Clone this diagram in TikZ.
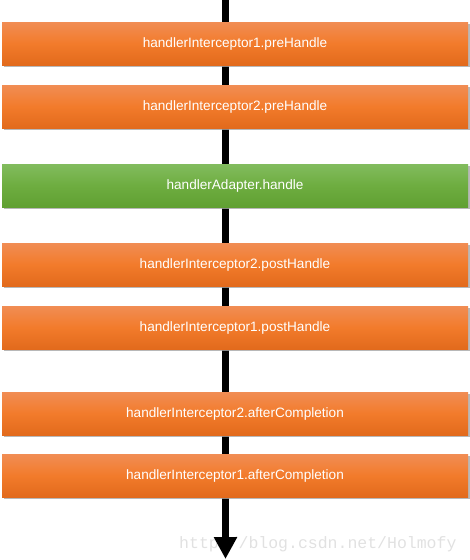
\documentclass[tikz,border=0pt]{standalone}
\usepackage{fontspec}
\setmainfont{Liberation Sans}
\newfontfamily\wmfont{Liberation Mono}
\usetikzlibrary{arrows.meta,shadows}
\definecolor{orTop}{RGB}{241,141,84}
\definecolor{orMid}{RGB}{242,123,43}
\definecolor{orBot}{RGB}{226,106,28}
\definecolor{grTop}{RGB}{130,188,94}
\definecolor{grMid}{RGB}{110,173,64}
\definecolor{grBot}{RGB}{96,160,50}
\definecolor{wmgray}{RGB}{225,225,225}
\tikzset{
  x=1pt, y=-1pt,
  stepbox/.style={rectangle, minimum width=466pt, minimum height=43pt, inner sep=0pt,
    text=white, font=\fontsize{13.6}{15}\selectfont,
    top color=orTop, bottom color=orBot, middle color=orMid,
    drop shadow={shadow xshift=1.5pt, shadow yshift=-2pt, fill=black!35, opacity=0.8}},
  greenbox/.style={stepbox, top color=grTop, bottom color=grBot, middle color=grMid},
  flow/.style={line width=7pt, -{Triangle[width=22pt,length=22pt]}},
}
\begin{document}
\begin{tikzpicture}
\useasboundingbox (0,0) rectangle (470,560);
\node[anchor=base west, text=wmgray, font=\wmfont\fontsize{16.5}{18}\selectfont, inner sep=0pt] (wm) at (179,548) {http://blog.csdn.net/Holmofy};
\coordinate (top) at (225.5,0);
\coordinate (bot) at (225.5,559);
\draw[flow] (top) -- (bot);
\node[stepbox] (b1) at (235,43.5) {handlerInterceptor1.preHandle};
\node[stepbox] (b2) at (235,106.5) {handlerInterceptor2.preHandle};
\node[greenbox] (b3) at (235,185.5) {handlerAdapter.handle};
\node[stepbox] (b4) at (235,264.5) {handlerInterceptor2.postHandle};
\node[stepbox] (b5) at (235,327.5) {handlerInterceptor1.postHandle};
\node[stepbox] (b6) at (235,413.5) {handlerInterceptor2.afterCompletion};
\node[stepbox] (b7) at (235,475.5) {handlerInterceptor1.afterCompletion};
\end{tikzpicture}
\end{document}
